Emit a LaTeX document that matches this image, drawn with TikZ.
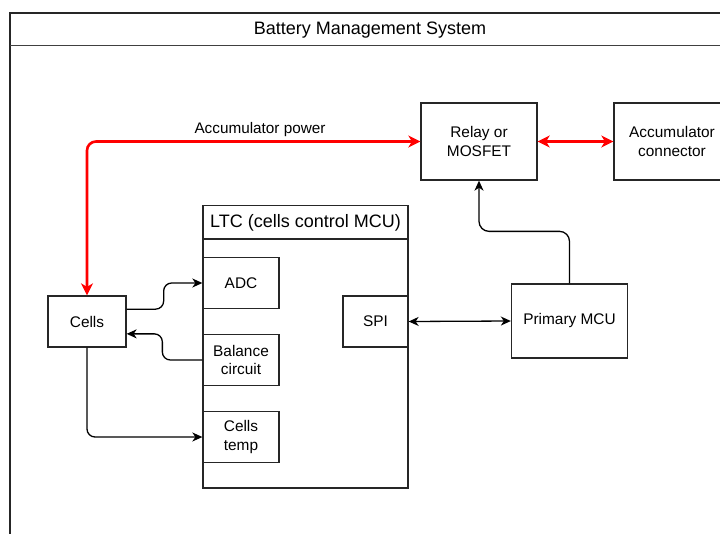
\documentclass[tikz,border=0pt]{standalone}
\usepackage{fontspec}
\setmainfont{Liberation Sans}
\usetikzlibrary{arrows.meta,calc}
\begin{document}
\begin{tikzpicture}[x=1pt,y=-1pt,
  line width=1.3pt,
  box/.style={draw=black!85,fill=white,line width=1.3pt,minimum width=#1,minimum height=51pt,inner sep=0pt,align=center,font=\fontsize{15.4}{18.5}\selectfont},
  box/.default=76pt,
  conn/.style={draw=black,line width=1.3pt,-{Stealth[length=10pt,width=9pt,inset=3pt]},rounded corners=8pt},
  dconn/.style={draw=black,line width=1.3pt,{Stealth[length=10pt,width=9pt,inset=3pt]}-{Stealth[length=10pt,width=9pt,inset=3pt]}},
  power/.style={draw=red,line width=2.6pt,{Stealth[length=12pt,width=12pt,inset=3.5pt]}-{Stealth[length=12pt,width=12pt,inset=3.5pt]},rounded corners=9pt},
  hdr/.style={font=\fontsize{18}{21}\selectfont},
  lbl/.style={font=\fontsize{15.3}{18}\selectfont}
]
\useasboundingbox (0,0) rectangle (720,533);
\clip (0,0) rectangle (720,533);
% outer frame
\draw[black!85] (10,13) rectangle (730,560);
\draw[black!75,line width=1.5pt] (10,45.5) -- (730,45.5);
\node[hdr] (title) at (370,30) {Battery Management System};

% LTC container
\draw[black!85] (203,205.5) rectangle (408,488);
\draw[black!85] (203,239) -- (408,239);
\node[hdr] (ltctitle) at (305.5,222.5) {LTC (cells control MCU)};

% boxes
\node[box=78pt] (cells) at (87,321.5) {Cells};
\node[box] (adc) at (241,283) {ADC};
\node[box] (bal) at (241,360) {Balance\\circuit};
\node[box] (temp) at (241,437) {Cells\\temp};
\node[box=65pt] (spi) at (375.5,321.5) {SPI};
\node[box=116pt,minimum height=74pt] (mcu) at (569.5,321) {Primary MCU};
\node[box=116pt,minimum height=77pt] (relay) at (479,141.5) {Relay or\\MOSFET};
\node[box=116pt,minimum height=77pt] (acc) at (672,141.5) {Accumulator\\connector};

% power paths
\draw[power] (cells.north) |- (relay.west);
\node[lbl] (pwrlbl) at (260,129.5) {Accumulator power};
\draw[power,rounded corners=0pt] (relay.east) -- (acc.west);

% signal connectors
\draw[conn] (cells.east |- adc.south) -- ++(37,0) |- (adc.west);
\draw[conn] (bal.west) -- ++(-40,0) |- (cells.east |- bal.north);
\draw[conn] (cells.south) |- (temp.west);
\draw[dconn] (spi.east) -- (mcu.west);
\draw[conn,rounded corners=10pt] (mcu.north) -- ++(0,-52) -| (relay.south);
\end{tikzpicture}
\end{document}
